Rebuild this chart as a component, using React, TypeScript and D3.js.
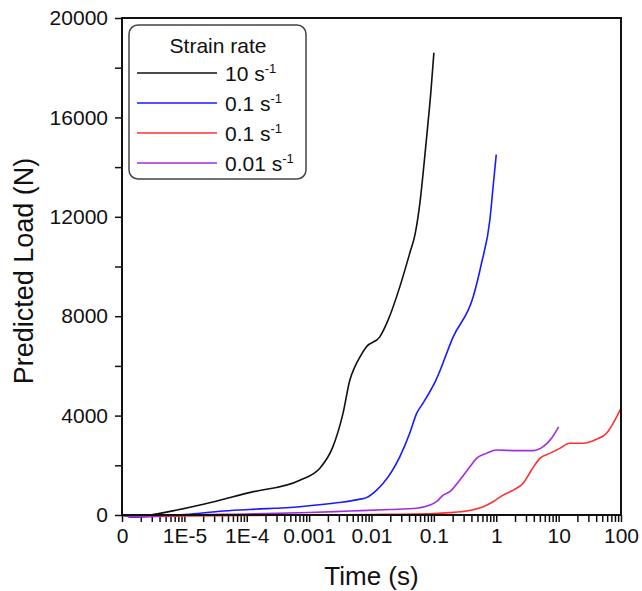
import React, { useEffect, useRef } from 'react';
import * as d3 from 'd3';

// decade labels on the log time axis (the first decade is shown as "0")
const xDecades = [1e-6, 1e-5, 1e-4, 1e-3, 1e-2, 1e-1, 1, 10, 100];
const xDecadeLabels = ["0", "1E-5", "1E-4", "0.001", "0.01", "0.1", "1", "10", "100"];
const yTickValues = [0, 4000, 8000, 12000, 16000, 20000];

// 10 s-1
const blackTime = [1e-6, 1.5e-6, 2.8e-6, 7.6e-6, 2.1e-5, 1.1e-4, 7.1e-4, 1.5e-3, 2.4e-3, 3.5e-3, 4.5e-3, 5.4e-3, 6.5e-3, 8.3e-3, 0.0136, 0.0185, 0.0285, 0.041, 0.05, 0.06, 0.07, 0.08, 0.09, 0.1];
const blackLoad = [0, -80, 0, 200, 440, 900, 1400, 1890, 2740, 4100, 5430, 5960, 6350, 6770, 7170, 7850, 9190, 10530, 11300, 12600, 14200, 15700, 17100, 18600];

// 0.1 s-1 (blue)
const blueTime = [1e-6, 1.5e-6, 3e-6, 1e-5, 1.8e-5, 3.7e-5, 1.1e-4, 7.1e-4, 3e-3, 6e-3, 8.3e-3, 0.0121, 0.0154, 0.0285, 0.041, 0.053, 0.067, 0.108, 0.204, 0.427, 0.58, 0.79, 0.89, 1];
const blueLoad = [0, -80, -60, 20, 70, 150, 220, 335, 500, 620, 700, 1000, 1275, 2350, 3290, 4090, 4500, 5430, 7170, 8780, 10130, 11870, 13210, 14500];

// 0.1 s-1 (red)
const redTime = [1e-6, 1.5e-6, 3e-6, 1e-5, 1e-4, 1e-3, 0.01, 0.1, 0.18, 0.334, 0.62, 0.89, 1.29, 1.87, 2.7, 3.68, 5, 7.2, 10.4, 15.1, 24.7, 40.5, 58.6, 74.8, 100];
const redLoad = [0, -60, -60, -40, -20, 0, 20, 60, 95, 160, 335, 535, 800, 1000, 1275, 1810, 2280, 2480, 2680, 2885, 2885, 3045, 3290, 3690, 4300];

// 0.01 s-1
const purpleTime = [1e-6, 1.5e-6, 3e-6, 1e-5, 1e-4, 1e-3, 4.5e-3, 0.02, 0.053, 0.086, 0.11, 0.141, 0.18, 0.261, 0.378, 0.483, 0.7, 1.01, 2.11, 3.9, 5.65, 7.7, 10];
const purpleLoad = [0, -60, -50, 0, 40, 100, 160, 220, 270, 400, 535, 800, 940, 1410, 1940, 2280, 2480, 2615, 2590, 2590, 2750, 3090, 3550];

const series = [
  { label: "10", color: "#111111", time: blackTime, load: blackLoad },
  { label: "0.1", color: "#1a1aff", time: blueTime, load: blueLoad },
  { label: "0.1", color: "#ff3030", time: redTime, load: redLoad },
  { label: "0.01", color: "#a02ee0", time: purpleTime, load: purpleLoad },
];

const W = 642;
const H = 591;
const FONT = "'Liberation Sans', Arial, Helvetica, sans-serif";

const App = () => {
  const svgRef = useRef(null);

  useEffect(() => {
    const svg = d3.select(svgRef.current);
    svg.selectAll("*").remove();

    const left = 122, right = 621, top = 18, bottom = 515;

    const x = d3.scaleLog().domain([1e-6, 100]).range([left, right]);
    const y = d3.scaleLinear().domain([0, 20000]).range([bottom, top]);

    // x axis, minor ticks at 2..9 of every decade
    const xAxis = d3.axisBottom(x)
      .tickValues(x.ticks())
      .tickSize(7)
      .tickSizeOuter(0)
      .tickFormat(v => {
        const i = xDecades.findIndex(d => Math.abs(Math.log10(d) - Math.log10(v)) < 1e-6);
        return i >= 0 ? xDecadeLabels[i] : "";
      });

    const gx = svg.append("g")
      .attr("transform", `translate(0,${bottom})`)
      .call(xAxis);
    gx.select(".domain").remove();
    gx.selectAll(".tick line").attr("stroke", "#111").attr("stroke-width", 1.5);
    gx.selectAll(".tick text")
      .attr("font-family", FONT)
      .attr("font-size", 21)
      .attr("fill", "#111")
      .attr("dy", "0.9em")
      .attr("y", 9);

    // y axis
    const yAxis = d3.axisLeft(y)
      .tickValues(d3.range(0, 20001, 2000))
      .tickSize(7)
      .tickSizeOuter(0)
      .tickFormat(v => (yTickValues.includes(+v) ? String(v) : ""));

    const gy = svg.append("g")
      .attr("transform", `translate(${left},0)`)
      .call(yAxis);
    gy.select(".domain").remove();
    gy.selectAll(".tick line").attr("stroke", "#111").attr("stroke-width", 1.5);
    gy.selectAll(".tick text")
      .attr("font-family", FONT)
      .attr("font-size", 21)
      .attr("fill", "#111")
      .attr("x", -14);

    // curves
    const line = d3.line()
      .x(d => x(d[0]))
      .y(d => y(d[1]))
      .curve(d3.curveMonotoneX);

    series.forEach(s => {
      svg.append("path")
        .datum(s.time.map((t, i) => [t, s.load[i]]))
        .attr("fill", "none")
        .attr("stroke", s.color)
        .attr("stroke-width", 1.6)
        .attr("d", line);
    });

    // frame
    svg.append("rect")
      .attr("x", left)
      .attr("y", top)
      .attr("width", right - left)
      .attr("height", bottom - top)
      .attr("fill", "none")
      .attr("stroke", "#111")
      .attr("stroke-width", 2);

    // axis titles
    svg.append("text")
      .attr("x", (left + right) / 2)
      .attr("y", 585)
      .attr("text-anchor", "middle")
      .attr("font-family", FONT)
      .attr("font-size", 26)
      .attr("fill", "#111")
      .text("Time (s)");

    svg.append("text")
      .attr("transform", `translate(33,${271}) rotate(-90)`)
      .attr("text-anchor", "middle")
      .attr("font-family", FONT)
      .attr("font-size", 27)
      .attr("fill", "#111")
      .text("Predicted Load (N)");

    // legend
    const lg = svg.append("g");
    lg.append("rect")
      .attr("x", 129)
      .attr("y", 25)
      .attr("width", 177)
      .attr("height", 154)
      .attr("rx", 9)
      .attr("fill", "white")
      .attr("stroke", "#444")
      .attr("stroke-width", 1.5);

    lg.append("text")
      .attr("x", 218)
      .attr("y", 53)
      .attr("text-anchor", "middle")
      .attr("font-family", FONT)
      .attr("font-size", 21)
      .attr("fill", "#111")
      .text("Strain rate");

    series.forEach((s, i) => {
      const ly = 73 + i * 30;
      lg.append("line")
        .attr("x1", 137)
        .attr("x2", 217)
        .attr("y1", ly)
        .attr("y2", ly)
        .attr("stroke", s.color)
        .attr("stroke-width", 1.6);
      const t = lg.append("text")
        .attr("x", 225)
        .attr("y", ly + 8)
        .attr("font-family", FONT)
        .attr("font-size", 21)
        .attr("fill", "#111");
      t.append("tspan").text(`${s.label} s`);
      t.append("tspan")
        .attr("font-size", 13)
        .attr("dy", -8)
        .text("-1");
    });
  }, []);

  return (
    <svg
      ref={svgRef}
      width={W}
      height={H}
      style={{ position: 'absolute', left: 0, top: 0, background: 'white' }}
    />
  );
};

export default App;
